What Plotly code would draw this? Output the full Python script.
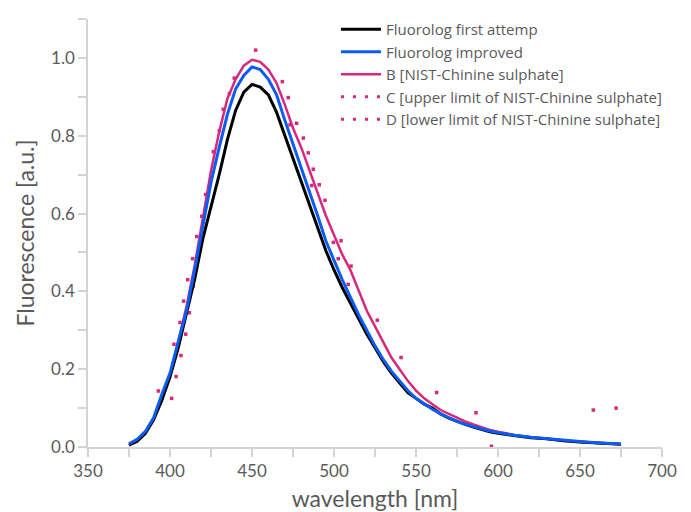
import plotly.graph_objects as go

# ---------------- data ----------------
wl = [375, 380, 385, 390, 395, 400, 405, 410, 415, 420, 425, 430, 435, 440, 445,
      450, 455, 460, 465, 470, 475, 480, 485, 490, 495, 500, 505, 510, 515, 520,
      525, 530, 535, 540, 545, 550, 555, 560, 565, 570, 575, 580, 585, 590, 595,
      600, 610, 620, 630, 640, 650, 660, 670, 675]

first_attempt = [0.005, 0.015, 0.035, 0.07, 0.12, 0.18, 0.255, 0.34, 0.43, 0.535,
                 0.615, 0.70, 0.79, 0.865, 0.912, 0.932, 0.925, 0.905, 0.86, 0.80,
                 0.74, 0.685, 0.625, 0.565, 0.505, 0.455, 0.41, 0.37, 0.33, 0.29,
                 0.255, 0.22, 0.19, 0.165, 0.14, 0.125, 0.11, 0.10, 0.085, 0.074,
                 0.065, 0.058, 0.051, 0.045, 0.039, 0.035, 0.029, 0.024, 0.021,
                 0.016, 0.013, 0.011, 0.008, 0.007]

improved = [0.008, 0.02, 0.04, 0.075, 0.135, 0.19, 0.27, 0.35, 0.455, 0.57,
            0.68, 0.77, 0.855, 0.92, 0.955, 0.977, 0.97, 0.945, 0.905, 0.84,
            0.78, 0.72, 0.66, 0.595, 0.53, 0.48, 0.43, 0.385, 0.34, 0.30,
            0.26, 0.225, 0.195, 0.17, 0.145, 0.125, 0.11, 0.097, 0.085, 0.075,
            0.066, 0.058, 0.052, 0.046, 0.041, 0.037, 0.03, 0.025, 0.021,
            0.017, 0.014, 0.011, 0.009, 0.008]

nist_b = [0.005, 0.015, 0.035, 0.07, 0.12, 0.185, 0.27, 0.36, 0.465, 0.585,
          0.71, 0.81, 0.895, 0.945, 0.98, 0.995, 0.99, 0.97, 0.935, 0.88,
          0.82, 0.77, 0.71, 0.65, 0.595, 0.545, 0.495, 0.455, 0.40, 0.35,
          0.31, 0.27, 0.23, 0.20, 0.17, 0.145, 0.125, 0.11, 0.095, 0.085,
          0.075, 0.066, 0.058, 0.05, 0.044, 0.039, 0.031, 0.025, 0.02,
          0.016, 0.013, 0.01, 0.008, 0.007]

upper_wl = [392.9, 402.4, 406.1, 408.3, 410.8, 413.8, 416.3, 419.3, 421.7, 426.4,
            430.1, 432.5, 439.2, 452.2, 468.5, 472.1, 477.2, 481.3, 487.4, 491.0,
            494.5, 499.6, 504.3, 510.4, 526.4, 540.9, 562.6, 586.6, 658.1, 672.0]
upper_val = [0.144, 0.264, 0.320, 0.375, 0.430, 0.484, 0.541, 0.593, 0.649, 0.759,
             0.813, 0.868, 0.948, 1.020, 0.939, 0.898, 0.832, 0.794, 0.714, 0.674,
             0.634, 0.526, 0.530, 0.465, 0.326, 0.230, 0.140, 0.088, 0.095, 0.100]

lower_wl = [392.2, 401.0, 403.7, 406.7, 409.6, 411.8, 414.2, 416.6, 418.7, 436.2,
            473.2, 484.3, 486.4, 502.6, 508.7, 596.0]
lower_val = [-0.012, 0.125, 0.181, 0.235, 0.290, 0.345, 0.414, 0.469, 0.524, 0.908,
             0.828, 0.756, 0.672, 0.484, 0.418, 0.002]

x_ticks = [350, 400, 450, 500, 550, 600, 650, 700]
y_ticks = [0.0, 0.2, 0.4, 0.6, 0.8, 1.0]

# ---------------- style ----------------
PINK = "#D8287C"
BLUE = "#0A5CF5"
BLACK = "#000000"
GRID = "#D3D3D3"
TXT = "#5A5A5A"
FONT = "Lato"

fig = go.Figure()

fig.add_trace(go.Scatter(x=upper_wl, y=upper_val, mode="markers",
                         marker=dict(symbol="square", size=3.5, color=PINK),
                         showlegend=False, cliponaxis=False))
fig.add_trace(go.Scatter(x=lower_wl, y=lower_val, mode="markers",
                         marker=dict(symbol="square", size=3.5, color=PINK),
                         showlegend=False, cliponaxis=False))

fig.add_trace(go.Scatter(x=wl, y=nist_b, mode="lines", name="B [NIST-Chinine sulphate]",
                         line=dict(color=PINK, width=2.5), legendrank=3))
fig.add_trace(go.Scatter(x=wl, y=first_attempt, mode="lines", name="Fluorolog first attemp",
                         line=dict(color=BLACK, width=3), legendrank=1))
fig.add_trace(go.Scatter(x=wl, y=improved, mode="lines", name="Fluorolog improved",
                         line=dict(color=BLUE, width=3), legendrank=2))

fig.add_trace(go.Scatter(x=[None], y=[None], mode="lines",
                         name="C [upper limit of NIST-Chinine sulphate]",
                         line=dict(color=PINK, width=3, dash="3px,9px"), legendrank=4))
fig.add_trace(go.Scatter(x=[None], y=[None], mode="lines",
                         name="D [lower limit of NIST-Chinine sulphate]",
                         line=dict(color=PINK, width=3, dash="3px,9px"), legendrank=5))

# page body adds an 8px offset: figure is 683x504 so it fits the 691x512 window
fig.update_layout(
    width=683, height=504,
    margin=dict(l=80, r=29, t=5, b=65),
    paper_bgcolor="white", plot_bgcolor="white",
    font=dict(family=FONT, color=TXT, size=16),
    legend=dict(x=0.432, y=1.0138, xanchor="left", yanchor="top",
                bgcolor="rgba(0,0,0,0)", font=dict(size=15, color=TXT, family="Open Sans"),
                tracegroupgap=0, itemwidth=40),
    showlegend=True,
)

fig.update_xaxes(range=[350, 700], tickvals=x_ticks, ticks="outside", ticklen=8,
                 tickcolor=GRID, tickwidth=1.5, showline=True, linecolor=GRID, linewidth=1.5,
                 showgrid=False, zeroline=False, automargin=False,
                 minor=dict(dtick=25, ticks="outside", ticklen=8, tickcolor=GRID, tickwidth=1.5),
                 title=dict(text="wavelength [nm]", font=dict(size=23, color=TXT), standoff=12),
                 tickfont=dict(size=17, color=TXT))
fig.update_yaxes(range=[0, 1.1], tickvals=y_ticks, tickformat=".1f", ticks="outside", ticklen=8,
                 tickcolor=GRID, tickwidth=1.5, showline=True, linecolor=GRID, linewidth=1.5,
                 showgrid=False, zeroline=False, automargin=False,
                 minor=dict(dtick=0.1, ticks="outside", ticklen=8, tickcolor=GRID, tickwidth=1.5),
                 title=dict(text="Fluorescence [a.u.]", font=dict(size=23, color=TXT), standoff=10),
                 tickfont=dict(size=17, color=TXT))

fig.write_html("out.html")
